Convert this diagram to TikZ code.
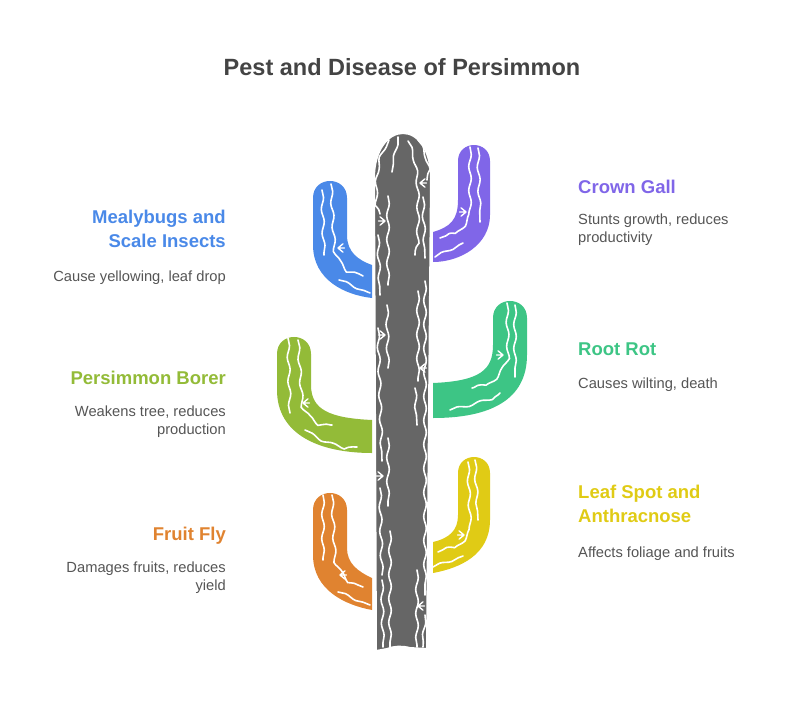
\documentclass[tikz,border=0pt]{standalone}
\usepackage{fontspec}
\setmainfont{Liberation Sans}
\usetikzlibrary{decorations.pathmorphing}
\definecolor{trunkgray}{RGB}{102,102,102}
\definecolor{titlegray}{RGB}{68,68,68}
\definecolor{descgray}{RGB}{85,85,85}
\definecolor{mealyblue}{RGB}{74,137,232}
\definecolor{gallpurple}{RGB}{128,102,232}
\definecolor{borergreen}{RGB}{147,187,56}
\definecolor{rotteal}{RGB}{61,197,133}
\definecolor{spotyellow}{RGB}{224,203,21}
\definecolor{flyorange}{RGB}{224,131,48}
\newcommand{\cactspine}[2]{\draw[spinemark] (#1) -- ++(#2:6.5) (#1) -- ++(#2+40:6.5) (#1) -- ++(#2-40:6.5);}

\begin{document}
\begin{tikzpicture}[
        x=1pt, y=-1pt,
        decoration={snake, amplitude=1.3pt, segment length=24pt},
        vein/.style={draw=white, line width=1.6pt, line cap=round, decorate},
        spinemark/.style={draw=white, line width=1.4pt, line cap=round},
        headline/.style={font=\fontsize{18.5}{24}\selectfont\bfseries},
        note/.style={font=\fontsize{14.7}{18}\selectfont, text=descgray},
        lefttext/.style={anchor=base east, align=right, inner sep=0pt},
        righttext/.style={anchor=base west, align=left, inner sep=0pt}]
        % 画布
        \useasboundingbox (0,0) rectangle (804,705);
        % 标题
        \node[font=\fontsize{23.5}{28}\selectfont\bfseries, text=titlegray, anchor=base] (title) at (402,75) {Pest and Disease of Persimmon};
        % 左侧枝
        \fill[mealyblue] (372,265) .. controls (358,260) and (347,252) .. (347,235) -- (347,198)
          .. controls (347,175.3) and (313,175.3) .. (313,198) -- (313,245)
          .. controls (313,280) and (345,295) .. (372,298) -- cycle;
        \fill[borergreen] (372,420) .. controls (330,418) and (311,410) .. (311,385) -- (311,354)
          .. controls (311,331.3) and (277,331.3) .. (277,354) -- (277,390)
          .. controls (277,435) and (320,453) .. (372,453) -- cycle;
        \fill[flyorange] (372,578) .. controls (357,571) and (347,563) .. (347,548) -- (347,510)
          .. controls (347,487.3) and (313,487.3) .. (313,510) -- (313,555)
          .. controls (313,590) and (345,605) .. (372,610) -- cycle;
        % 右侧枝
        \fill[gallpurple] (433,232) .. controls (450,227) and (458,220) .. (458,200) -- (458,161)
          .. controls (458,139.7) and (490,139.7) .. (490,161) -- (490,215)
          .. controls (490,245) and (460,262) .. (433,262) -- cycle;
        \fill[rotteal] (433,383) .. controls (480,381) and (493,370) .. (493,345) -- (493,318)
          .. controls (493,295.3) and (527,295.3) .. (527,318) -- (527,355)
          .. controls (527,400) and (490,418) .. (433,418) -- cycle;
        \fill[spotyellow] (433,542) .. controls (450,538) and (458,530) .. (458,515) -- (458,473)
          .. controls (458,451.7) and (490,451.7) .. (490,473) -- (490,520)
          .. controls (490,555) and (460,568) .. (433,573) -- cycle;
        % 主干
        \filldraw[fill=trunkgray, draw=white, line width=2pt] (376,651) -- (374,178)
          .. controls (374,150) and (388,133) .. (403,133) .. controls (418,133) and (431,150) .. (431,178)
          -- (427,649) -- (410,648) .. controls (402,646) and (395,646) .. (387,649) -- cycle;
        % 主干纹路
        \draw[vein] (389,140) .. controls (380,155) and (378,175) .. (380,214);
        \draw[vein] (398,137) -- (392,172);
        \draw[vein] (408,141) .. controls (416,160) and (417,185) .. (415,255);
        \draw[vein] (418,140) .. controls (425,152) and (427,165) .. (427,180);
        \draw[vein] (423,197) -- (425,258);
        \draw[vein] (388,196) -- (388,285);
        \draw[vein] (378,235) -- (380,295);
        \draw[vein] (418,291) -- (418,381);
        \draw[vein] (425,281) -- (425,595);
        \draw[vein] (387,305) -- (388,368);
        \draw[vein] (378,328) -- (382,461);
        \draw[vein] (388,438) -- (388,506);
        \draw[vein] (380,488) -- (382,575);
        \draw[vein] (390,531) -- (390,647);
        \draw[vein] (382,580) -- (383,647);
        \draw[vein] (415,388) -- (417,425);
        \draw[vein] (417,570) -- (417,647);
        \draw[vein] (425,615) -- (423,647);
        % 主干刺
        \cactspine{385,221}{180}
        \cactspine{420,183}{0}
        \cactspine{385,335}{180}
        \cactspine{420,368}{0}
        \cactspine{383,476}{180}
        \cactspine{418,606}{0}
        % 枝上纹路
        \draw[vein] (322,190) -- (324,255);
        \draw[vein] (331,184) -- (334,240) .. controls (340,260) and (350,268) .. (363,276);
        \draw[vein] (339,280) -- (370,293);
        \cactspine{338,248}{0}
        \draw[vein] (288,338) -- (290,413);
        \draw[vein] (298,340) -- (302,400) .. controls (308,412) and (318,420) .. (332,425);
        \draw[vein] (305,430) .. controls (320,440) and (340,446) .. (357,447);
        \cactspine{303,403}{0}
        \draw[vein] (323,495) -- (323,560);
        \draw[vein] (332,495) -- (335,558) .. controls (342,572) and (352,582) .. (363,587);
        \draw[vein] (338,592) -- (370,605);
        \cactspine{340,575}{0}
        \draw[vein] (470,147) -- (470,210) .. controls (465,222) and (455,232) .. (440,238);
        \draw[vein] (478,148) -- (480,222);
        \draw[vein] (435,257) -- (463,243);
        \cactspine{466,212}{180}
        \draw[vein] (507,303) -- (508,350) .. controls (500,370) and (490,380) .. (472,388);
        \draw[vein] (515,305) -- (515,377);
        \draw[vein] (450,410) .. controls (470,405) and (490,400) .. (500,393);
        \cactspine{503,355}{180}
        \draw[vein] (468,462) -- (470,520) .. controls (465,535) and (452,545) .. (438,552);
        \draw[vein] (475,460) -- (478,520);
        \draw[vein] (433,567) -- (463,556);
        \cactspine{464,535}{180}
        % 左侧文字
        \node[headline, lefttext, text=mealyblue] (mealy) at (226,247) {Mealybugs and\\Scale Insects};
        \node[note, lefttext] (mealynote) at (226,281) {Cause yellowing, leaf drop};
        \node[headline, lefttext, text=borergreen] (borer) at (226,384) {Persimmon Borer};
        \node[note, lefttext] (borernote) at (226,434) {Weakens tree, reduces\\production};
        \node[headline, lefttext, text=flyorange] (fly) at (226,540) {Fruit Fly};
        \node[note, lefttext] (flynote) at (226,590) {Damages fruits, reduces\\yield};
        % 右侧文字
        \node[headline, righttext, text=gallpurple] (gall) at (578,193) {Crown Gall};
        \node[note, righttext] (gallnote) at (578,242) {Stunts growth, reduces\\productivity};
        \node[headline, righttext, text=rotteal] (rot) at (578,355) {Root Rot};
        \node[note, righttext] (rotnote) at (578,388) {Causes wilting, death};
        \node[headline, righttext, text=spotyellow] (spot) at (578,522) {Leaf Spot and\\Anthracnose};
        \node[note, righttext] (spotnote) at (578,557) {Affects foliage and fruits};
      \end{tikzpicture}
\end{document}
